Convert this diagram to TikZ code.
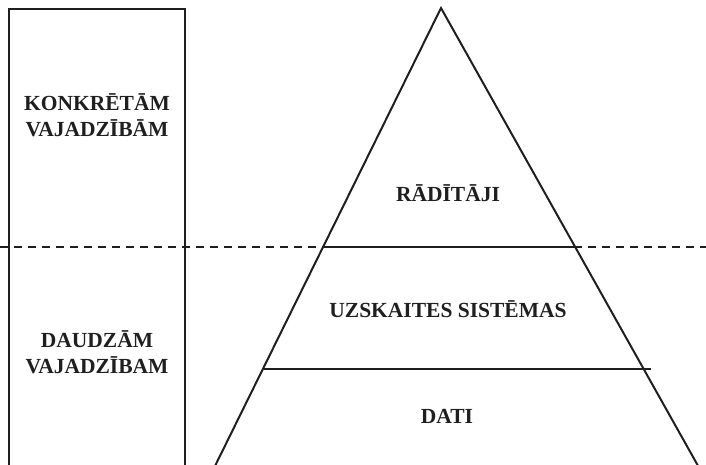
\documentclass[tikz,border=0pt]{standalone}
\usepackage{fontspec}
\setmainfont{Liberation Serif}
\usetikzlibrary{calc}
\begin{document}
\begin{tikzpicture}[x=1pt,y=-1pt,
  ln/.style={line width=2pt, draw=black!88},
  lbl/.style={font=\bfseries\fontsize{21.5}{25.5}\selectfont, text=black!88, align=center, inner sep=0pt}]
\useasboundingbox (0,0) rectangle (706,464);
\clip (0,0) rectangle (706,464);
% left box
\coordinate (bl) at (8.5,480);
\coordinate (tl) at (8.5,8.5);
\coordinate (tr) at (184.5,8.5);
\coordinate (br) at (184.5,480);
\draw[ln] (bl) -- (tl) -- (tr) -- (br);
% dashed divider
\coordinate (d1) at (0,247);
\coordinate (d2) at (706,247);
\draw[ln, dash pattern=on 8pt off 6pt] (d1) -- (d2);
% triangle
\coordinate (apex) at (441,8);
\coordinate (lb) at ($(apex)!1.1!(216,464)$);
\coordinate (rb) at ($(apex)!1.1!(697,464)$);
\draw[ln, line join=miter] (lb) -- (apex) -- (rb);
% horizontal lines
\coordinate (h1a) at (323,247);
\coordinate (h1b) at (575,247);
\draw[ln] (h1a) -- (h1b);
\coordinate (h2a) at (264,368.5);
\coordinate (h2b) at (651,368.5);
\draw[ln] (h2a) -- (h2b);
% labels
\node[lbl] (k) at (97,115) {KONKRĒTĀM\\VAJADZĪBĀM};
\node[lbl] (d) at (97,352) {DAUDZĀM\\VAJADZĪBAM};
\node[lbl] (r) at (448,193) {RĀDĪTĀJI};
\node[lbl] (u) at (448,309) {UZSKAITES SISTĒMAS};
\node[lbl] (t) at (447,416) {DATI};
\end{tikzpicture}
\end{document}
